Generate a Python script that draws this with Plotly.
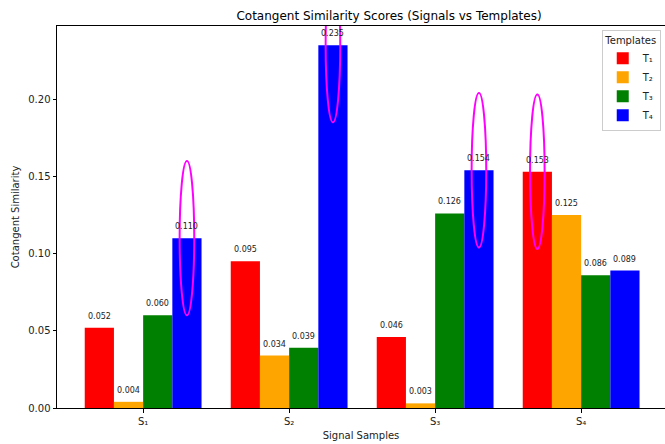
import plotly.graph_objects as go

signals = ["S\u2081", "S\u2082", "S\u2083", "S\u2084"]
templates = ["T\u2081", "T\u2082", "T\u2083", "T\u2084"]
t1 = [0.052, 0.095, 0.046, 0.153]
t2 = [0.004, 0.034, 0.003, 0.125]
t3 = [0.060, 0.039, 0.126, 0.086]
t4 = [0.110, 0.235, 0.154, 0.089]
series = [t1, t2, t3, t4]
colors = ["#ff0000", "#ffa500", "#008000", "#0000ff"]
yticks = [0.00, 0.05, 0.10, 0.15, 0.20]

bw = 0.2
offsets = [-0.3, -0.1, 0.1, 0.3]
xpos = list(range(len(signals)))

fig = go.Figure()
annotations = []
for k, (name, vals, col) in enumerate(zip(templates, series, colors)):
    fig.add_trace(go.Bar(
        x=[x + offsets[k] for x in xpos], y=vals, width=bw, name=name,
        marker=dict(color=col, line=dict(width=0)),
    ))
    for x, v in zip(xpos, vals):
        annotations.append(dict(
            x=x + offsets[k], y=v, xref="x", yref="y", text=f"{v:.3f}",
            showarrow=False, yanchor="bottom", yshift=5,
            font=dict(size=8, color="#222222", family="DejaVu Sans"),
        ))

shapes = []
for i in xpos:
    vals = [s[i] for s in series]
    k = max(range(4), key=lambda j: vals[j])
    cx = i + offsets[k]
    cy = vals[k]
    shapes.append(dict(
        type="circle", xref="x", yref="y",
        x0=cx - 0.05, x1=cx + 0.05, y0=cy - 0.05, y1=cy + 0.05,
        line=dict(color="#ff00ff", width=2), layer="above",
    ))

fig.update_layout(
    width=665, height=444,
    margin=dict(l=57, r=0, t=26, b=36),
    paper_bgcolor="white", plot_bgcolor="white",
    font=dict(family="DejaVu Sans", size=10, color="#222222"),
    title=dict(text="Cotangent Similarity Scores (Signals vs Templates)",
               x=0.585, xanchor="center", y=1 - 16 / 444, yanchor="middle",
               font=dict(size=12, color="black")),
    barmode="overlay",
    showlegend=True,
    legend=dict(title=dict(text="Templates", side="top center", font=dict(size=10)),
                x=0.993, xanchor="right", y=0.99, yanchor="top",
                bgcolor="white", bordercolor="#cccccc", borderwidth=1,
                font=dict(size=10), tracegroupgap=0, itemwidth=30),
    annotations=annotations,
    shapes=shapes,
    xaxis=dict(range=[-0.59, -0.59 + 608 / 146], tickvals=xpos, ticktext=signals,
               title=dict(text="Signal Samples", standoff=6, font=dict(size=10)),
               showline=True, linecolor="black", linewidth=1, mirror=True,
               ticks="outside", ticklen=3.5, tickcolor="black", showgrid=False,
               zeroline=False),
    yaxis=dict(range=[0, 0.2474], tickvals=yticks, tickformat=".2f",
               title=dict(text="Cotangent Similarity", standoff=6, font=dict(size=10)),
               showline=True, linecolor="black", linewidth=1, mirror=True,
               ticks="outside", ticklen=3.5, tickcolor="black", showgrid=False,
               zeroline=False),
)

fig.write_html("out.html")
